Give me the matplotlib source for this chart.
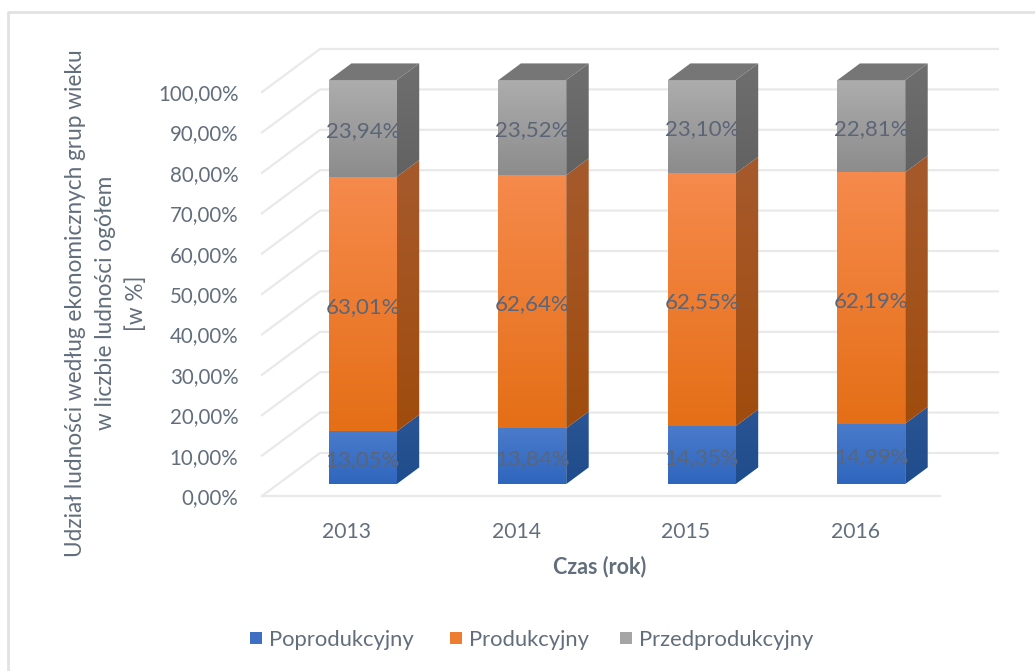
import matplotlib
matplotlib.use("Agg")
import matplotlib.pyplot as plt
import numpy as np
from matplotlib.colors import LinearSegmentedColormap
from matplotlib.patches import Polygon, Rectangle
from matplotlib.lines import Line2D

plt.rcParams["font.family"] = ["Lato", "DejaVu Sans"]

years = ["2013", "2014", "2015", "2016"]
poprod = [13.05, 13.84, 14.35, 14.99]
prod = [63.01, 62.64, 62.55, 62.19]
przed = [23.94, 23.52, 23.10, 22.81]
series_names = ["Poprodukcyjny", "Produkcyjny", "Przedprodukcyjny"]
y_ticks = [0, 10, 20, 30, 40, 50, 60, 70, 80, 90, 100]

W, H = 1035, 671
TEXT = "#626e7c"

fig = plt.figure(figsize=(W / 100, H / 100), dpi=100)
# front plane of the 3d box, in pixels: x 262-940, y 496-92
ax = fig.add_axes([262 / W, 1 - 496 / H, 678 / W, 404 / H])
ax.set_xlim(-0.5, 3.5)
ax.set_ylim(0, 100)
ax.patch.set_alpha(0)
for s in ax.spines.values():
    s.set_visible(False)

# depth of the box in data units
DX = 58 / 678 * 4
DY = 43 / 404 * 100


def pt(x, y, z):
    return (x + z * DX, y + z * DY)


# walls
grid_c = "#e9e9e9"
for v in y_ticks:
    a, b, c = pt(-0.5, v, 0), pt(-0.5, v, 1), pt(3.5, v, 1)
    ax.plot([a[0], b[0], c[0]], [a[1], b[1], c[1]], color=grid_c, lw=1.6,
            clip_on=False, zorder=1)
ax.plot([-0.5, 3.5], [0, 0], color=grid_c, lw=1.6, clip_on=False, zorder=1)

BAR_W = 0.40
Z0, Z1 = 0.277, 0.665


def grad_poly(pts, top, bottom, zorder):
    # polygon filled with a vertical gradient
    pts = np.array(pts)
    cmap = LinearSegmentedColormap.from_list("g", [top, bottom])
    im = ax.imshow(np.linspace(0, 1, 64).reshape(-1, 1), cmap=cmap, aspect="auto",
                   extent=[pts[:, 0].min(), pts[:, 0].max(), pts[:, 1].min(), pts[:, 1].max()],
                   zorder=zorder)
    clip = Polygon(pts, transform=ax.transData, fc="none", ec="none", clip_on=False)
    ax.add_patch(clip)
    im.set_clip_box(fig.bbox)
    im.set_clip_path(clip)


front_cols = [("#4a7bcb", "#2f66bd"), ("#f68a4c", "#e56f17"), ("#adadad", "#8c8c8c")]
side_cols = [("#2b5595", "#1f4c8c"), ("#a65a2c", "#a04c0e"), ("#6f6f6f", "#626262")]
top_col = "#767676"

for i in range(len(years)):
    base = 0
    for k, vals in enumerate([poprod, prod, przed]):
        v = vals[i]
        x0, x1 = i - BAR_W / 2, i + BAR_W / 2
        y0, y1 = base, base + v
        grad_poly([pt(x1, y0, Z0), pt(x1, y0, Z1), pt(x1, y1, Z1), pt(x1, y1, Z0)],
                  side_cols[k][0], side_cols[k][1], 3)
        grad_poly([pt(x0, y0, Z0), pt(x1, y0, Z0), pt(x1, y1, Z0), pt(x0, y1, Z0)],
                  front_cols[k][0], front_cols[k][1], 4)
        cx, cy = pt(i, base + v / 2, Z0)
        ax.text(cx, cy - 0.7, f"{v:.2f}%".replace(".", ","), ha="center", va="center",
                fontsize=16, color="#5b6577", zorder=6)
        base = y1
    ax.add_patch(Polygon([pt(x0, base, Z0), pt(x1, base, Z0), pt(x1, base, Z1), pt(x0, base, Z1)],
                         fc=top_col, ec="none", zorder=4, clip_on=False))

ax.set_xlim(-0.5, 3.5)
ax.set_ylim(0, 100)
ax.set_xticks(range(len(years)), years)
ax.set_yticks(y_ticks, [f"{v},00%" for v in y_ticks])
ax.tick_params(length=0, labelsize=14.8, labelcolor=TEXT)
ax.tick_params(axis="x", pad=19, labelsize=15.2)
ax.tick_params(axis="y", pad=17)

fig.text(600 / W, 1 - 567 / H, "Czas (rok)", ha="center", va="center", fontsize=15.5,
         fontweight="bold", color=TEXT)
fig.text(106 / W, 1 - 303 / H,
         "Udział ludności według ekonomicznych grup wieku\nw liczbie ludności ogółem\n[w %]",
         rotation=90, ha="center", va="center", ma="center", fontsize=16.3, color=TEXT,
         linespacing=1.55)

# legend
leg_x = [250, 450, 620]
leg_c = ["#3f6fc2", "#ed7d31", "#a5a5a5"]
for x, c, name in zip(leg_x, leg_c, series_names):
    fig.add_artist(Rectangle((x / W, 1 - 644 / H), 12 / W, 12 / H, transform=fig.transFigure,
                             fc=c, ec="none"))
    fig.text((x + 19) / W, 1 - 639.5 / H, name, ha="left", va="center", fontsize=15.8, color=TEXT)

# chart frame, only left and top edges show
fig.add_artist(Line2D([8 / W, 8 / W, 1], [0, 1 - 12 / H, 1 - 12 / H], transform=fig.transFigure,
                      color="#e2e2e2", lw=2))

fig.savefig("out.png", dpi=100)
